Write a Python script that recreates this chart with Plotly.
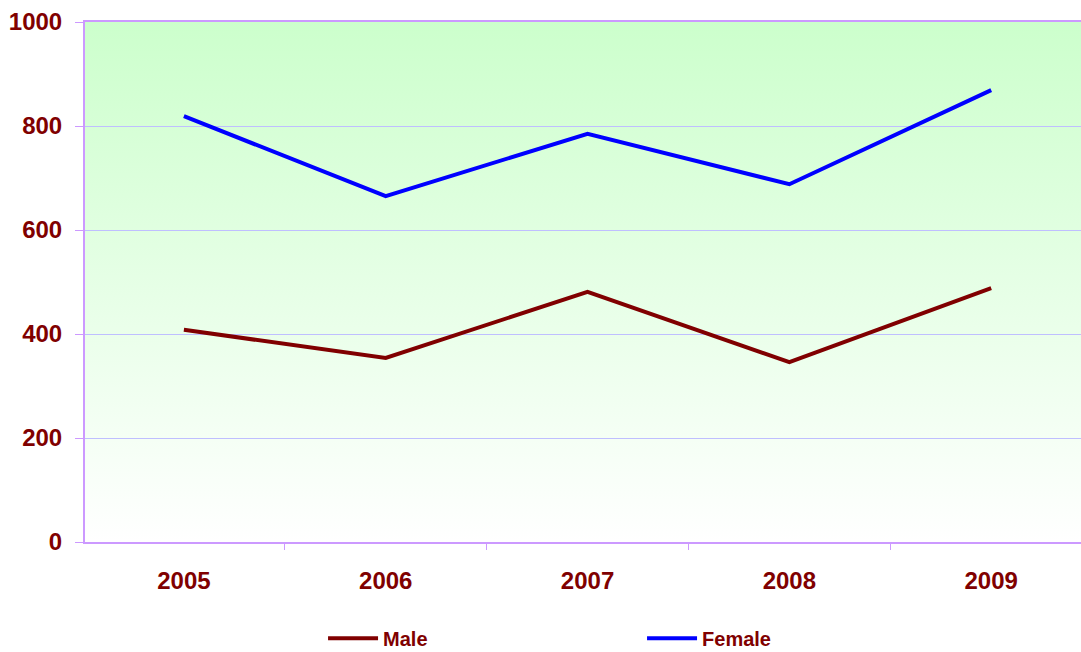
import plotly.graph_objects as go

years = [2005, 2006, 2007, 2008, 2009]
year_labels = ["2005", "2006", "2007", "2008", "2009"]
male = [408, 354, 481, 346, 488]
female = [819, 665, 785, 688, 869]
y_ticks = [0, 200, 400, 600, 800, 1000]

DARKRED = "#800000"
FONT = "Arial, Liberation Sans, sans-serif"

grad_svg = (
    "data:image/svg+xml;utf8,"
    "<svg xmlns='http://www.w3.org/2000/svg' width='100' height='100' preserveAspectRatio='none'>"
    "<defs><linearGradient id='g' x1='0' y1='0' x2='0' y2='1'>"
    "<stop offset='0' stop-color='%23CCFFCC'/><stop offset='1' stop-color='%23FFFFFF'/>"
    "</linearGradient></defs><rect width='100' height='100' fill='url(%23g)'/></svg>"
)

fig = go.Figure()
fig.add_trace(go.Scatter(x=years, y=male, name="Male", mode="lines",
                         line=dict(color=DARKRED, width=4)))
fig.add_trace(go.Scatter(x=years, y=female, name="Female", mode="lines",
                         line=dict(color="#0000FF", width=4)))

fig.add_layout_image(dict(source=grad_svg, xref="paper", yref="paper", x=0, y=1,
                          sizex=1, sizey=1, sizing="stretch", layer="below",
                          xanchor="left", yanchor="top"))

fig.update_layout(
    width=1081, height=652, autosize=False,
    margin=dict(l=85, r=0, t=22, b=110, autoexpand=False),
    paper_bgcolor="white",
    plot_bgcolor="rgba(0,0,0,0)",
    font=dict(family=FONT, color=DARKRED, size=20, weight="bold"),
    showlegend=True,
    legend=dict(orientation="h", x=0.239, xanchor="left", y=-0.185, yanchor="middle",
                entrywidth=254, entrywidthmode="pixels", itemwidth=50,
                font=dict(size=20, color=DARKRED, family=FONT, weight="bold")),
    xaxis=dict(range=[2004.51, 2009.445], tickvals=years, ticktext=year_labels,
               ticks="", showgrid=False, zeroline=False, automargin=False,
               showline=True, linecolor="#CC99FF", linewidth=2, mirror=True,
               tickfont=dict(size=24, color=DARKRED, family=FONT, weight="bold"),
               ticklabelstandoff=16,
               minor=dict(tick0=2004.5, dtick=1, ticks="outside", ticklen=6,
                          tickcolor="#CC99FF", tickwidth=1, showgrid=False)),
    yaxis=dict(range=[0, 1000], tickvals=y_ticks, ticks="outside", ticklen=8,
               tickcolor="#CC99FF", showgrid=True, gridcolor="#BFBFFF", gridwidth=1,
               zeroline=False, showline=True, linecolor="#CC99FF", linewidth=2,
               automargin=False,
               tickfont=dict(size=24, color=DARKRED, family=FONT, weight="bold"),
               ticklabelstandoff=8),
)

post = (
    "document.body.style.margin='0';"
    "document.body.style.padding='0';"
    "document.body.style.overflow='hidden';"
    "var gd=document.getElementById('{plot_id}');"
    "Plotly.relayout(gd,{width:1081,height:652});"
)

fig.write_html("out.html", config={"responsive": False, "displayModeBar": False},
               post_script=post)
